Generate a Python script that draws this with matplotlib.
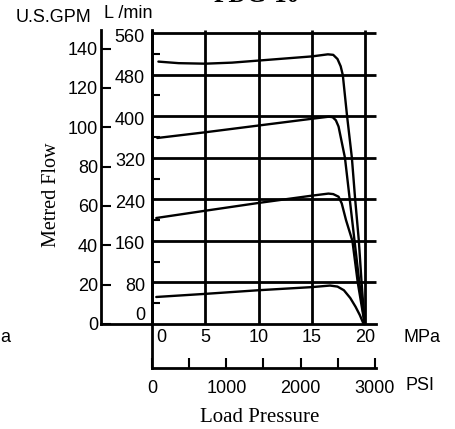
import matplotlib
matplotlib.use("Agg")
import matplotlib.pyplot as plt
from matplotlib.transforms import ScaledTranslation, blended_transform_factory

# ---------------- data ----------------
mpa_ticks = [0, 5, 10, 15, 20]
lmin_ticks = [0, 80, 160, 240, 320, 400, 480, 560]
lmin_minor = [40, 120, 200, 280, 360, 440, 520]
gpm_ticks = [0, 20, 40, 60, 80, 100, 120, 140]
psi_ticks = [0, 500, 1000, 1500, 2000, 2500, 3000]
psi_labels = [0, 1000, 2000, 3000]

curve_a_x = [0.6, 2.5, 5, 7.5, 10, 12.5, 15, 16.5, 17.0, 17.4, 17.7, 17.9, 18.3, 18.75, 19.05, 19.4, 19.65, 19.95]
curve_a_y = [505, 502, 501, 503, 507, 511, 515, 519, 518, 510, 496, 479, 400, 320, 242, 161, 83, 0]

curve_b_x = [0.5, 5, 10, 15, 16.6, 16.95, 17.25, 17.5, 18.1, 18.55, 19.0, 19.45, 19.95]
curve_b_y = [358, 369, 382, 395, 399, 398, 392, 380, 320, 240, 160, 80, 0]

curve_c_x = [0.4, 5, 10, 15, 16.55, 17.0, 17.5, 17.8, 18.2, 18.8, 19.3, 19.95]
curve_c_y = [204, 218, 233, 247, 251, 250, 245, 232, 200, 160, 80, 0]

curve_d_x = [0.4, 5, 10, 15, 16.7, 17.4, 18.0, 18.6, 19.1, 19.5, 19.85]
curve_d_y = [52, 58, 65, 71, 74, 72, 65, 50, 33, 17, 0]

# ---------------- figure ----------------
W, H = 456, 429
fig = plt.figure(figsize=(W / 100, H / 100), dpi=100)
fig.patch.set_facecolor("white")

SANS = "Liberation Sans"
SERIF = "Liberation Serif"
FS = 13
LW_AX = 2.0
LW_CURVE = 1.7

def px_rect(x0, y0, x1, y1):
    return [x0 / W, 1 - y1 / H, (x1 - x0) / W, (y1 - y0) / H]

X_LEFT, X_RIGHT = 152, 376
Y_TOP, Y_ZERO = 30, 324
PX_PER_MPA = 10.66
PX_PER_LMIN = 0.5196

xmax = (X_RIGHT - X_LEFT) / PX_PER_MPA
ymax = (Y_ZERO - Y_TOP) / PX_PER_LMIN

# GPM axis (outer left)
axg = fig.add_axes(px_rect(101, Y_TOP, X_RIGHT, Y_ZERO))
axg.set_facecolor("none")
axg.set_ylim(0, ymax / 3.7854)
axg.set_xlim(0, 1)
for s in ["top", "right"]:
    axg.spines[s].set_visible(False)
for s in ["left", "bottom"]:
    axg.spines[s].set_linewidth(LW_AX)
axg.set_xticks([])
axg.set_yticks(gpm_ticks)
axg.set_yticklabels([str(v) for v in gpm_ticks], fontsize=FS, fontfamily=SANS)
axg.tick_params(axis="y", direction="in", length=7.2, width=1.5, pad=2.2)

# main axes
ax = fig.add_axes(px_rect(X_LEFT, Y_TOP, X_RIGHT, Y_ZERO))
ax.set_facecolor("none")
ax.set_xlim(0, xmax)
ax.set_ylim(0, ymax)
for s in ["top", "right", "bottom"]:
    ax.spines[s].set_visible(False)
ax.spines["left"].set_linewidth(LW_AX)
ax.set_xticks([])
ax.set_yticks([])
ax.set_yticks(lmin_minor, minor=True)
ax.tick_params(axis="y", which="minor", direction="in", length=5.8, width=1.5)
ax.yaxis.set_minor_formatter(plt.NullFormatter())

ax.hlines(lmin_ticks[1:], 0, xmax, colors="black", linewidth=LW_AX, clip_on=False)
ax.vlines(mpa_ticks, 0, ymax, colors="black", linewidth=LW_AX, clip_on=False)

for xs, ys in [(curve_a_x, curve_a_y), (curve_b_x, curve_b_y),
               (curve_c_x, curve_c_y), (curve_d_x, curve_d_y)]:
    ax.plot(xs, ys, color="black", linewidth=LW_CURVE, solid_joinstyle="round",
            solid_capstyle="round", clip_on=False)

# L/min labels
blend = blended_transform_factory(ax.transAxes, ax.transData)
for v in lmin_ticks:
    dy = 9 if v == 0 else -4
    tr = blend + ScaledTranslation(-7 / 100, dy / 100, fig.dpi_scale_trans)
    ax.text(0, v, str(v), transform=tr, ha="right", va="center",
            fontsize=FS, fontfamily=SANS)

# MPa labels
for v in mpa_ticks:
    dx = 9 if v == 0 else 0
    tr = ax.transData + ScaledTranslation(dx / 100, -14 / 100, fig.dpi_scale_trans)
    ax.text(v, 0, str(v), transform=tr, ha="center", va="center",
            fontsize=FS, fontfamily=SANS)

# PSI axis
axp = fig.add_axes(px_rect(X_LEFT, Y_ZERO, X_RIGHT, 368))
axp.set_facecolor("none")
axp.set_xlim(0, 3000 * (X_RIGHT - X_LEFT) / 223)
axp.set_ylim(0, 1)
for s in ["top", "right"]:
    axp.spines[s].set_visible(False)
for s in ["left", "bottom"]:
    axp.spines[s].set_linewidth(LW_AX)
axp.set_yticks([])
axp.set_xticks(psi_ticks)
axp.set_xticklabels([str(v) if v in psi_labels else "" for v in psi_ticks],
                    fontsize=FS, fontfamily=SANS)
axp.tick_params(axis="x", direction="in", length=7.2, width=1.5, pad=8.6)

# texts
fig.text(54 / W, 1 - 17 / H, "U.S.GPM", ha="center", va="center", fontsize=FS, fontfamily=SANS)
fig.text(128 / W, 1 - 14 / H, "L /min", ha="center", va="center", fontsize=FS, fontfamily=SANS)
fig.text(422 / W, 1 - 338 / H, "MPa", ha="center", va="center", fontsize=FS, fontfamily=SANS)
fig.text(420 / W, 1 - 385 / H, "PSI", ha="center", va="center", fontsize=FS, fontfamily=SANS)
fig.text(5 / W, 1 - 337 / H, "a", ha="center", va="center", fontsize=FS, fontfamily=SANS)
fig.text(52 / W, 1 - 195 / H, "Metred Flow", ha="center", va="center", rotation=90,
         fontsize=14.5, fontfamily=SERIF)
fig.text(260 / W, 1 - 417 / H, "Load Pressure", ha="center", va="center",
         fontsize=15, fontfamily=SERIF)
fig.text(257 / W, 1 - 2 / H, "PDG-10", ha="center", va="baseline",
         fontsize=18, fontfamily=SERIF, fontweight="bold")

fig.savefig("out.png", dpi=100)
